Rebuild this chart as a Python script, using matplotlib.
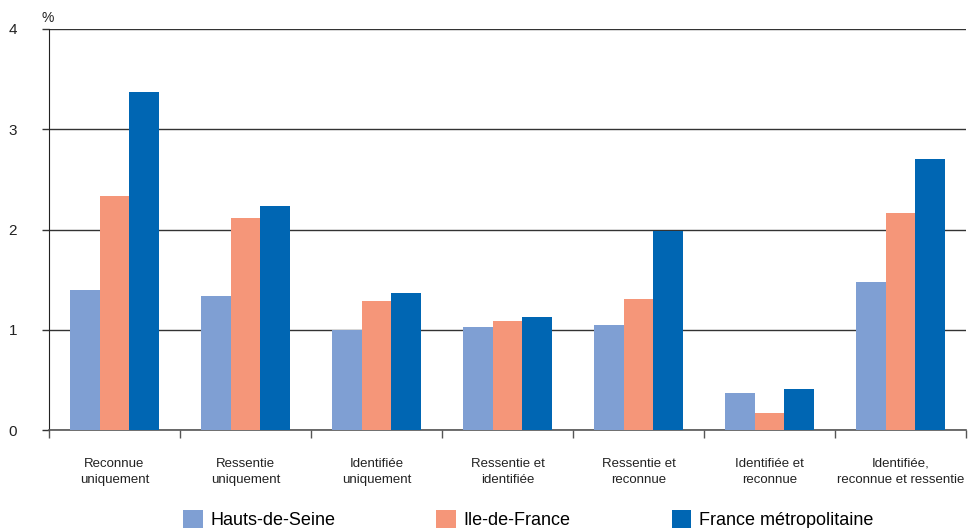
import matplotlib
matplotlib.use("Agg")
import matplotlib.pyplot as plt
import numpy as np
from matplotlib.patches import Patch

plt.rcParams['font.family'] = ['Liberation Sans', 'DejaVu Sans']

categories = ["Reconnue\nuniquement", "Ressentie\nuniquement", "Identifiée\nuniquement",
              "Ressentie et\nidentifiée", "Ressentie et\nreconnue", "Identifiée et\nreconnue",
              "Identifiée,\nreconnue et ressentie"]
series_names = ["Hauts-de-Seine", "Ile-de-France", "France métropolitaine"]
hauts_de_seine = [1.40, 1.34, 1.00, 1.03, 1.05, 0.37, 1.48]
ile_de_france = [2.33, 2.11, 1.29, 1.09, 1.31, 0.17, 2.16]
france_metro = [3.37, 2.23, 1.37, 1.13, 1.99, 0.41, 2.70]
colors = ["#7F9FD3", "#F59679", "#0066B3"]
yticks = [0, 1, 2, 3, 4]

fig = plt.figure(figsize=(9.78, 5.28), dpi=100)
ax = fig.add_axes([49/978, 1-430/528, (966-49)/978, (430-29)/528])

x = np.arange(len(categories))
w = 0.224
for i, (vals, c) in enumerate(zip([hauts_de_seine, ile_de_france, france_metro], colors)):
    ax.bar(x + (i-1)*w, vals, width=w, color=c, zorder=3, linewidth=0)

ax.set_xlim(-0.5, len(categories)-0.5)
ax.set_ylim(0, 4)
ax.set_yticks(yticks)
ax.set_yticklabels([str(t) for t in yticks], fontsize=11, color="#222222")
ax.yaxis.grid(True, color="#333333", linewidth=1.0, zorder=1)
ax.set_axisbelow(True)
ax.tick_params(axis='y', length=5, width=1, pad=18, color="#333333")

ax.set_xticks(x)
ax.set_xticklabels(categories, fontsize=9.5, color="#222222", linespacing=1.5)
ax.set_xticks(np.arange(len(categories)+1)-0.5, minor=True)
ax.tick_params(axis='x', which='major', length=0, pad=20)
ax.tick_params(axis='x', which='minor', length=6, width=1, color="#555555")

for s in ['top', 'right']:
    ax.spines[s].set_visible(False)
ax.spines['left'].set_color("#222222")
ax.spines['bottom'].set_color("#555555")
ax.spines['bottom'].set_linewidth(1.2)

fig.text(42/978, 1-18/528, "%", fontsize=10, color="#222222", va='center', ha='left')

handles = [Patch(facecolor=c, edgecolor='none') for c in colors]
fig.legend(handles, series_names, loc='upper center', bbox_to_anchor=(0.54, 1-503/528),
           ncol=3, frameon=False, fontsize=13, columnspacing=5.6, handlelength=1.1,
           handleheight=1.1, handletextpad=0.4, borderaxespad=0)

fig.savefig("out.png", dpi=100)
